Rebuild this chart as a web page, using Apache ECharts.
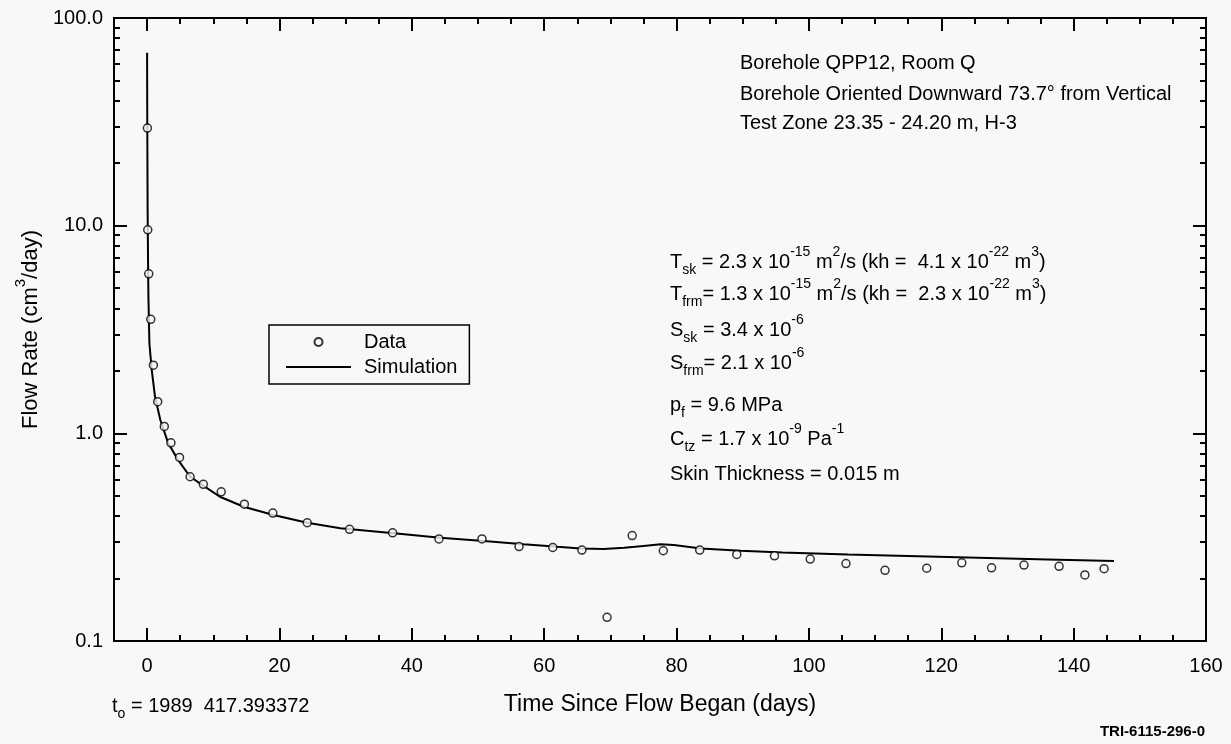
<!DOCTYPE html>
<html>
<head>
<meta charset="utf-8">
<script src="https://cdn.jsdelivr.net/npm/echarts@6/dist/echarts.min.js"></script>
<style>
  html, body { margin: 0; padding: 0; background: #f8f8f8; }
  #chart { width: 1231px; height: 744px; }
</style>
</head>
<body>
<div id="chart"></div>
<script>
// Measured flow rates (days since flow began, cm^3/day)
const dataDays = [0.05, 0.1, 0.25, 0.55, 0.95, 1.6, 2.6, 3.6, 4.9, 6.5, 8.5, 11.2, 14.7, 19.0,
  24.2, 30.6, 37.1, 44.1, 50.6, 56.2, 61.3, 65.7, 69.5, 73.3, 78.0, 83.5, 89.1, 94.8,
  100.2, 105.6, 111.5, 117.8, 123.1, 127.6, 132.5, 137.8, 141.7, 144.6];
const dataFlow = [29.5, 9.55, 5.86, 3.54, 2.13, 1.42, 1.08, 0.90, 0.766, 0.618, 0.568, 0.523, 0.456, 0.413,
  0.371, 0.345, 0.332, 0.310, 0.310, 0.285, 0.282, 0.274, 0.130, 0.322, 0.272, 0.274, 0.261, 0.257,
  0.248, 0.236, 0.219, 0.224, 0.238, 0.225, 0.232, 0.229, 0.208, 0.223];

// Simulated flow rate
const simDays = [0, 0.03, 0.08, 0.15, 0.2, 0.35, 0.7, 1.2, 2.0, 3.2, 4.7, 6.5, 8.5, 11, 14.6, 19.1,
  24.2, 29.2, 37.3, 44.3, 50.9, 56.9, 62, 65.5, 69, 72.1, 75, 77.6, 79.6, 83.7, 89.7, 96,
  105.9, 121, 136.1, 146.1];
const simFlow = [68, 30, 12, 6.5, 4.55, 2.71, 2.02, 1.50, 1.16, 0.895, 0.743, 0.618, 0.56, 0.495, 0.443, 0.404,
  0.371, 0.349, 0.330, 0.314, 0.303, 0.292, 0.284, 0.279, 0.277, 0.281, 0.287, 0.292, 0.290, 0.279, 0.272, 0.267,
  0.261, 0.254, 0.247, 0.243];

// Tick positions
const xMajor = [0, 20, 40, 60, 80, 100, 120, 140, 160];
const xMinor = [5, 10, 15, 25, 30, 35, 45, 50, 55, 65, 70, 75, 85, 90, 95,
  105, 110, 115, 125, 130, 135, 145, 150, 155];
const yMajor = [0.1, 1, 10, 100];
const yMajorLabels = ['0.1', '1.0', '10.0', '100.0'];
const yMinor = [0.2, 0.3, 0.4, 0.5, 0.6, 0.7, 0.8, 0.9, 2, 3, 4, 5, 6, 7, 8, 9,
  20, 30, 40, 50, 60, 70, 80, 90];

const FONT = '"Liberation Sans", Arial, Helvetica, sans-serif';
const INK = '#000';
const PAPER = '#f8f8f8';

const pairs = (xs, ys) => xs.map((x, i) => [x, ys[i]]);

function xAxisDef(position, ticks, len, opts) {
  return Object.assign({
    type: 'value', min: -5, max: 160, position: position,
    axisLine: { show: true, onZero: false, lineStyle: { color: INK, width: 2 } },
    axisTick: { show: true, inside: true, length: len, customValues: ticks, lineStyle: { color: INK, width: 2 } },
    axisLabel: { show: false },
    splitLine: { show: false }
  }, opts || {});
}
function yAxisDef(position, ticks, len, opts) {
  return Object.assign({
    type: 'log', logBase: 10, min: 0.1, max: 100, position: position,
    axisLine: { show: true, onZero: false, lineStyle: { color: INK, width: 2 } },
    axisTick: { show: true, inside: true, length: len, customValues: ticks, lineStyle: { color: INK, width: 2 } },
    axisLabel: { show: false },
    splitLine: { show: false }
  }, opts || {});
}

const sup = { fontSize: 14, fontFamily: FONT, fill: INK, padding: [0, 0, 19, 0] };
const sub = { fontSize: 14, fontFamily: FONT, fill: INK, padding: [17, 0, 0, 0] };

function note(x, y, text, extra) {
  return {
    type: 'text', x: x, y: y, silent: true,
    style: Object.assign({
      text: text, fontSize: 20, fontFamily: FONT, fill: INK,
      align: 'left', verticalAlign: 'middle',
      rich: { sup: sup, sub: sub }
    }, extra || {})
  };
}

const chart = echarts.init(document.getElementById('chart'));
chart.setOption({
  backgroundColor: PAPER,
  animation: false,
  grid: { left: 114, right: 25, top: 18, bottom: 103, containLabel: false },
  xAxis: [
    xAxisDef('bottom', xMajor, 13, {
      axisLabel: { show: true, customValues: xMajor, margin: 15, fontSize: 20, fontFamily: FONT, color: INK },
      name: 'Time Since Flow Began (days)', nameLocation: 'middle', nameGap: 52,
      nameTextStyle: { fontSize: 23, fontFamily: FONT, color: INK }
    }),
    xAxisDef('bottom', xMinor, 6),
    xAxisDef('top', xMajor, 13),
    xAxisDef('top', xMinor, 6)
  ],
  yAxis: [
    yAxisDef('left', yMajor, 13, {
      axisLabel: {
        show: true, customValues: yMajor, margin: 11, fontSize: 20, fontFamily: FONT, color: INK,
        formatter: v => yMajorLabels[yMajor.findIndex(t => Math.abs(t - v) < 1e-9 * Math.max(1, t))]
      },
      name: 'Flow Rate (cm{sup|3}/day)', nameLocation: 'middle', nameGap: 63,
      nameTextStyle: {
        fontSize: 22, fontFamily: FONT, color: INK,
        rich: { sup: { fontSize: 15, fontFamily: FONT, color: INK, padding: [0, 0, 20, 0] } }
      }
    }),
    yAxisDef('left', yMinor, 6),
    yAxisDef('right', yMajor, 13),
    yAxisDef('right', yMinor, 6)
  ],
  legend: {
    left: 269, top: 325, orient: 'vertical', selectedMode: false,
    backgroundColor: PAPER, borderColor: INK, borderWidth: 1.5, borderRadius: 0,
    padding: [7, 12, 7, 17], itemWidth: 65, itemHeight: 8, itemGap: 5,
    symbolKeepAspect: true,
    textStyle: { fontSize: 20, fontFamily: FONT, color: INK, lineHeight: 20, padding: [0, 0, 0, 8] },
    data: [
      { name: 'Data' },
      { name: 'Simulation', icon: 'path://M0 0H65V2H0Z' }
    ]
  },
  series: [
    {
      name: 'Simulation', type: 'line', xAxisIndex: 0, yAxisIndex: 0,
      data: pairs(simDays, simFlow), symbol: 'none', showSymbol: false,
      lineStyle: { color: INK, width: 2 }, itemStyle: { color: INK }, z: 2
    },
    {
      name: 'Data', type: 'scatter', xAxisIndex: 0, yAxisIndex: 0,
      data: pairs(dataDays, dataFlow), symbol: 'circle', symbolSize: 8,
      itemStyle: { color: PAPER, borderColor: INK, borderWidth: 1.5 }, z: 3
    }
  ],
  graphic: [
    note(740, 63, 'Borehole QPP12, Room Q'),
    note(740, 94, 'Borehole Oriented Downward 73.7° from Vertical'),
    note(740, 123, 'Test Zone 23.35 - 24.20 m, H-3'),
    note(670, 262, 'T{sub|sk} = 2.3 x 10{sup|-15} m{sup|2}/s (kh =  4.1 x 10{sup|-22} m{sup|3})'),
    note(670, 294, 'T{sub|frm}= 1.3 x 10{sup|-15} m{sup|2}/s (kh =  2.3 x 10{sup|-22} m{sup|3})'),
    note(670, 330, 'S{sub|sk} = 3.4 x 10{sup|-6}'),
    note(670, 363, 'S{sub|frm}= 2.1 x 10{sup|-6}'),
    note(670, 405, 'p{sub|f} = 9.6 MPa'),
    note(670, 439, 'C{sub|tz} = 1.7 x 10{sup|-9} Pa{sup|-1}'),
    note(670, 474, 'Skin Thickness = 0.015 m'),
    note(112, 706, 't{sub|o} = 1989  417.393372', { fontSize: 20 }),
    note(1205, 732, 'TRI-6115-296-0', { fontSize: 15, fontWeight: 'bold', align: 'right' })
  ]
});
</script>
</body>
</html>
